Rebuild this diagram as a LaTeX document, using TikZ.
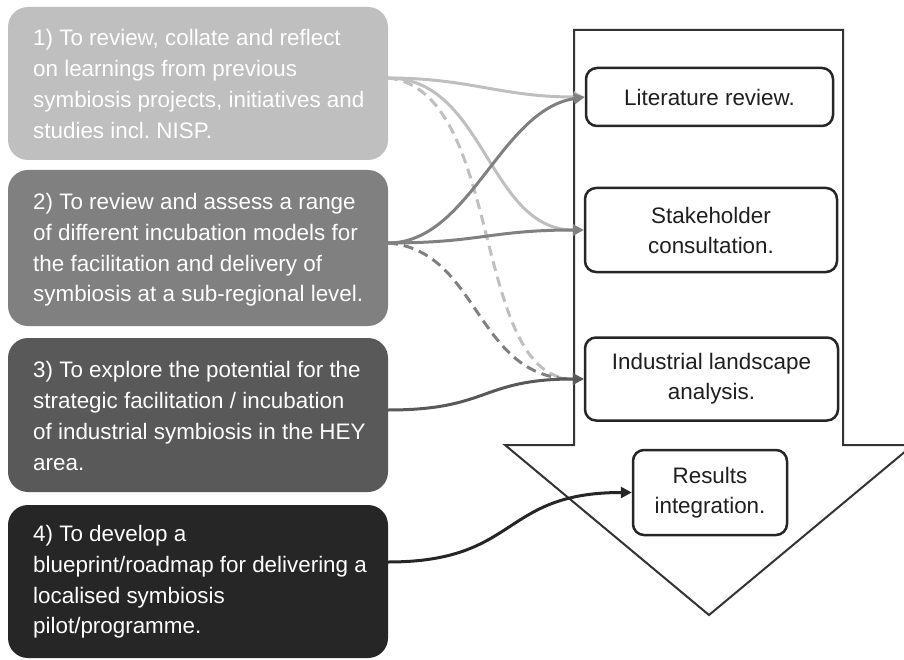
\documentclass[tikz,border=0pt]{standalone}
\usepackage{fontspec}
\setmainfont{Liberation Sans}
\usetikzlibrary{arrows.meta}
\definecolor{cA}{HTML}{BFBFBF}
\definecolor{cB}{HTML}{808080}
\definecolor{cC}{HTML}{595959}
\definecolor{cD}{HTML}{262626}
\definecolor{edgecol}{HTML}{333333}
\tikzset{
  objbox/.style={rounded corners=20pt, minimum width=380pt, inner sep=0pt},
  objtext/.style={anchor=west, align=left, text=white, inner sep=0pt,
    font=\fontsize{22.4}{30.8}\selectfont},
  stepbox/.style={draw=cD, line width=2.5pt, fill=white, rounded corners=11pt,
    inner sep=0pt, align=center, text=black!88,
    font=\fontsize{22.4}{30}\selectfont},
  conn/.style={line width=3pt, -{Triangle[length=11pt,width=11pt]}},
  dconn/.style={conn, dash pattern=on 10pt off 6pt}
}
\begin{document}
\frenchspacing
\begin{tikzpicture}[x=1pt,y=-1pt]
\useasboundingbox (0,0) rectangle (904,660);
% big arrow
\draw[edgecol, line width=2pt, fill=white, line join=miter]
  (574,30) -- (843,30) -- (843,445) -- (913,445) -- (709,615) -- (505,445) -- (574,445) -- cycle;
% step boxes
\node[stepbox, minimum width=247pt, minimum height=58pt] (lit) at (709.5,97) {Literature review.};
\node[stepbox, minimum width=252pt, minimum height=84pt] (stk) at (711,230) {Stakeholder\\consultation.};
\node[stepbox, minimum width=253pt, minimum height=83pt] (ind) at (711.5,379) {Industrial landscape\\analysis.};
\node[stepbox, minimum width=154pt, minimum height=85pt] (res) at (710,492.5) {Results\\integration.};
% objective boxes
\node[objbox, fill=cA, minimum height=153pt] (o1) at (198,83.5) {};
\node[objbox, fill=cB, minimum height=156pt] (o2) at (198,248) {};
\node[objbox, fill=cC, minimum height=154pt] (o3) at (198,415) {};
\node[objbox, fill=cD, minimum height=153pt] (o4) at (198,581.5) {};
\node[objtext] (t1) at (33,84) {1) To review, collate and reflect\\on learnings from previous\\symbiosis projects, initiatives and\\studies incl. NISP.};
\node[objtext] (t2) at (33,250) {2) To review and assess a range\\of different incubation models for\\the facilitation and delivery of\\symbiosis at a sub-regional level.};
\node[objtext] (t3) at (33,416) {3) To explore the potential for the\\strategic facilitation / incubation\\of industrial symbiosis in the HEY\\area.};
\node[objtext] (t4) at (33,582) {4) To develop a\\blueprint/roadmap for delivering a\\localised symbiosis\\pilot/programme.};
% sources
\coordinate (s1) at (388,78);
\coordinate (s2) at (388,243);
\coordinate (s3) at (388,410);
\coordinate (s4) at (388,562);
% connectors
\draw[conn, cA] (s1) .. controls (470,78) and (500,97) .. (lit.west);
\draw[conn, cA] (s1) .. controls (485,78) and (488,230) .. (stk.west);
\draw[dconn, cA] (s1) .. controls (505,90) and (470,379) .. (ind.west);
\draw[conn, cB] (s2) .. controls (470,243) and (500,110) .. (lit.west);
\draw[conn, cB] (s2) .. controls (480,243) and (490,230) .. (stk.west);
\draw[dconn, cB] (s2) .. controls (480,250) and (475,379) .. (ind.west);
\draw[conn, cC] (s3) .. controls (490,410) and (480,379) .. (ind.west);
\draw[conn, cD] (s4) .. controls (520,562) and (500,492.5) .. (res.west);
\end{tikzpicture}
\end{document}
